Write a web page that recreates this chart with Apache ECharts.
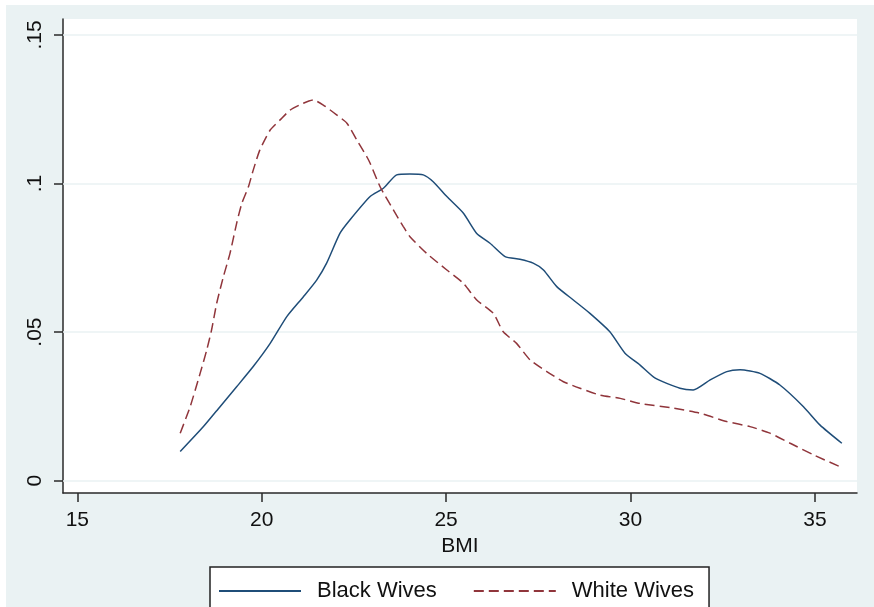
<!DOCTYPE html>
<html>
<head>
<meta charset="utf-8">
<script src="https://cdn.jsdelivr.net/npm/echarts@6/dist/echarts.min.js"></script>
<style>
html,body{margin:0;padding:0;background:#fff;}
#chart{width:874px;height:607px;}
</style>
</head>
<body>
<div id="chart"></div>
<script>
const blackBMI = [17.79,18.42,18.87,19.32,19.77,20.23,20.68,21.13,21.49,21.76,22.12,22.39,22.94,23.30,23.66,24.02,24.38,24.65,25.02,25.47,25.83,26.19,26.60,27.00,27.36,27.64,28.00,28.45,28.90,29.44,29.85,30.26,30.67,31.34,31.70,32.16,32.61,32.97,33.51,34.05,34.69,35.14,35.73];
const blackDensity = [0.0098,0.0182,0.0249,0.0316,0.0384,0.0462,0.0552,0.0619,0.0675,0.0732,0.0832,0.0877,0.0956,0.0984,0.1029,0.1032,0.1029,0.1006,0.0956,0.0900,0.0832,0.0799,0.0754,0.0745,0.0732,0.0709,0.0653,0.0608,0.0563,0.0501,0.0429,0.0389,0.0345,0.0311,0.0305,0.0339,0.0367,0.0373,0.0361,0.0322,0.0249,0.0187,0.0126];
const whiteBMI = [17.79,18.06,18.33,18.51,18.64,18.78,18.96,19.14,19.32,19.46,19.64,19.77,19.95,20.23,20.50,20.77,21.13,21.40,21.67,22.03,22.31,22.58,22.85,22.94,23.21,23.57,23.84,24.02,24.47,25.02,25.47,25.83,26.28,26.55,26.91,27.28,27.73,28.18,28.63,29.17,29.72,30.26,31.16,31.88,32.61,33.24,33.78,34.33,34.96,35.68];
const whiteDensity = [0.0160,0.0249,0.0361,0.0440,0.0507,0.0597,0.0686,0.0765,0.0866,0.0933,0.0989,0.1045,0.1113,0.1180,0.1214,0.1247,0.1270,0.1281,0.1264,0.1231,0.1203,0.1146,0.1090,0.1068,0.0989,0.0911,0.0855,0.0821,0.0765,0.0709,0.0664,0.0608,0.0563,0.0501,0.0462,0.0406,0.0367,0.0333,0.0311,0.0288,0.0277,0.0260,0.0244,0.0227,0.0199,0.0182,0.0160,0.0126,0.0087,0.0047];
const xTicks = [15,20,25,30,35];
const yTicks = [0,0.05,0.1,0.15];
const yTickLabels = ['0','.05','.1','.15'];
const seriesNames = ['Black Wives','White Wives'];
const xTitle = 'BMI';

const pair = (xs, ys) => xs.map((x, i) => [x, ys[i]]);
const yLabel = v => {
  let best = 0;
  yTicks.forEach((t, i) => { if (Math.abs(t - v) < Math.abs(yTicks[best] - v)) best = i; });
  return yTickLabels[best];
};

const FONT = 'Liberation Sans, Arial, sans-serif';
const TXT = '#111';
const AX = '#2a2a2a';
const BG = '#eaf2f3';

const chart = echarts.init(document.getElementById('chart'), null, {renderer: 'canvas'});
chart.setOption({
  animation: false,
  backgroundColor: 'transparent',
  graphic: [{
    type: 'rect', z: -10, silent: true,
    shape: {x: 6, y: 5, width: 868, height: 602},
    style: {fill: BG}
  }],
  grid: {
    left: 63, right: 17, top: 19, bottom: 114,
    show: true, backgroundColor: '#fff', borderWidth: 0
  },
  xAxis: {
    type: 'value',
    min: 14.612, max: 36.141,
    name: xTitle,
    nameLocation: 'middle',
    nameGap: 32,
    nameTextStyle: {fontFamily: FONT, fontSize: 21, color: TXT},
    axisLine: {show: true, onZero: false, lineStyle: {color: AX, width: 1.5}},
    axisTick: {show: true, length: 9, customValues: xTicks, lineStyle: {color: AX, width: 1.5}},
    axisLabel: {customValues: xTicks, margin: 17, fontFamily: FONT, fontSize: 21, color: TXT},
    splitLine: {show: false}
  },
  yAxis: {
    type: 'value',
    min: -0.00414, max: 0.15535,
    axisLine: {show: true, onZero: false, lineStyle: {color: AX, width: 1.5}},
    axisTick: {show: true, length: 9, customValues: yTicks, lineStyle: {color: AX, width: 1.5}},
    axisLabel: {customValues: yTicks, rotate: 90, margin: 17, fontFamily: FONT, fontSize: 21, color: TXT, formatter: yLabel},
    splitLine: {show: false}
  },
  legend: {
    left: 210, top: 567,
    padding: [13, 15, 40, 8],
    backgroundColor: '#fff',
    borderColor: '#222', borderWidth: 1.5, borderRadius: 0,
    itemWidth: 82, itemHeight: 14, itemGap: 36,
    itemStyle: {opacity: 0},
    textStyle: {fontFamily: FONT, fontSize: 22, color: TXT, padding: [0, 0, 0, 11]},
    data: seriesNames
  },
  series: [
    {
      type: 'line', name: 'grid', silent: true, z: 1,
      data: [], symbol: 'none',
      markLine: {
        silent: true, symbol: 'none', animation: false, z: 1,
        label: {show: false},
        lineStyle: {color: BG, width: 1.5, type: 'solid'},
        data: yTicks.map(v => ({yAxis: v}))
      }
    },
    {
      type: 'line', name: seriesNames[0], z: 3,
      data: pair(blackBMI, blackDensity),
      symbol: 'none', smooth: 0.2,
      lineStyle: {color: '#1f4d78', width: 1.5},
      itemStyle: {color: '#1f4d78'}
    },
    {
      type: 'line', name: seriesNames[1], z: 3,
      data: pair(whiteBMI, whiteDensity),
      symbol: 'none', smooth: 0.2,
      lineStyle: {color: '#90353b', width: 1.5, type: [10, 5]},
      itemStyle: {color: '#90353b'}
    }
  ]
});
</script>
</body>
</html>
